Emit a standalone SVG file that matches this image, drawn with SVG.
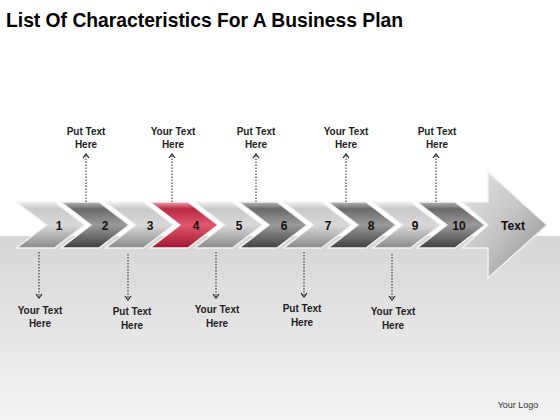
<svg xmlns="http://www.w3.org/2000/svg" width="560" height="420" viewBox="0 0 560 420">
<defs>
<linearGradient id="bg" x1="0" y1="0" x2="0" y2="1"><stop offset="0" stop-color="#d6d6d6"/><stop offset="1" stop-color="#f4f4f4"/></linearGradient>
<linearGradient id="gl" x1="0" y1="0" x2="0" y2="1"><stop offset="0" stop-color="#f0f0f0"/><stop offset="0.15" stop-color="#c9c9c9"/><stop offset="0.5" stop-color="#d8d8d8"/><stop offset="1" stop-color="#8a8a8a"/></linearGradient>
<linearGradient id="gd" x1="0" y1="0" x2="0" y2="1"><stop offset="0" stop-color="#b8b8b8"/><stop offset="0.15" stop-color="#6a6a6a"/><stop offset="0.5" stop-color="#9a9a9a"/><stop offset="1" stop-color="#404040"/></linearGradient>
<linearGradient id="gr" x1="0" y1="0" x2="0" y2="1"><stop offset="0" stop-color="#f0a0ac"/><stop offset="0.15" stop-color="#b82a42"/><stop offset="0.5" stop-color="#e0566c"/><stop offset="1" stop-color="#a01830"/></linearGradient>
<linearGradient id="ga" x1="0" y1="0" x2="1" y2="1"><stop offset="0" stop-color="#e6e6e6"/><stop offset="0.5" stop-color="#c4c4c4"/><stop offset="1" stop-color="#8c8c8c"/></linearGradient>
<marker id="ah" markerWidth="6" markerHeight="8" refX="5" refY="4" orient="auto" markerUnits="userSpaceOnUse" viewBox="0 0 6 8">
<polyline points="1,1 5,4 1,7" fill="none" stroke="#222" stroke-width="1.2"/></marker>
<path id="chev" d="M0,0 H38 L68,23 L38,46 H0 L30,23 Z"/>
</defs>
<style>
.t{font-family:"Liberation Sans",Arial,sans-serif;font-weight:bold;fill:#222;font-size:10px;text-anchor:middle}
.n{font-family:"Liberation Sans",Arial,sans-serif;font-weight:bold;fill:#111;font-size:12px;text-anchor:middle}
.c{stroke:#f2f2f2;stroke-width:1.5;stroke-linejoin:round}
.l{fill:url(#gl)}.d{fill:url(#gd)}.r{fill:url(#gr)}
.ln{stroke:#222;stroke-width:1;stroke-dasharray:1.5,1.5;fill:none}
</style>
<rect width="560" height="420" fill="#ffffff"/>
<rect y="236" width="560" height="184" fill="url(#bg)"/>
<text x="6" y="27" font-family="Liberation Sans,Arial,sans-serif" font-weight="bold" font-size="21" fill="#000" textLength="397" lengthAdjust="spacingAndGlyphs">List Of Characteristics For A Business Plan</text>
<g id="bigarrow">
<path d="M462,202 H488 V172 L547,225 L488,278 V248 H462 L488,225 Z" fill="url(#ga)" class="c"/>
<text x="513" y="230" class="n" font-size="13">Text</text>
</g>
<g id="c10"><use href="#chev" x="417" y="202" class="c d"/><text x="459" y="230" class="n">10</text></g>
<g id="c9"><use href="#chev" x="372.5" y="202" class="c l"/><text x="415" y="230" class="n">9</text></g>
<g id="c8"><use href="#chev" x="328" y="202" class="c d"/><text x="371" y="230" class="n">8</text></g>
<g id="c7"><use href="#chev" x="283.5" y="202" class="c l"/><text x="328" y="230" class="n">7</text></g>
<g id="c6"><use href="#chev" x="239" y="202" class="c d"/><text x="284" y="230" class="n">6</text></g>
<g id="c5"><use href="#chev" x="194.5" y="202" class="c l"/><text x="239" y="230" class="n">5</text></g>
<g id="c4"><use href="#chev" x="150" y="202" class="c r"/><text x="196" y="230" class="n">4</text></g>
<g id="c3"><use href="#chev" x="105.5" y="202" class="c l"/><text x="150" y="230" class="n">3</text></g>
<g id="c2"><use href="#chev" x="61" y="202" class="c d"/><text x="105" y="230" class="n">2</text></g>
<g id="c1"><use href="#chev" x="16.5" y="202" class="c l"/><text x="59" y="230" class="n">1</text></g>
<g id="connectors">
<line x1="86" y1="202" x2="86" y2="154" class="ln" marker-end="url(#ah)"/>
<line x1="172" y1="202" x2="172" y2="154" class="ln" marker-end="url(#ah)"/>
<line x1="256" y1="202" x2="256" y2="154" class="ln" marker-end="url(#ah)"/>
<line x1="346" y1="202" x2="346" y2="154" class="ln" marker-end="url(#ah)"/>
<line x1="436" y1="202" x2="436" y2="154" class="ln" marker-end="url(#ah)"/>
<line x1="39" y1="252" x2="39" y2="298" class="ln" marker-end="url(#ah)"/>
<line x1="128" y1="254" x2="128" y2="300" class="ln" marker-end="url(#ah)"/>
<line x1="216" y1="252" x2="216" y2="298" class="ln" marker-end="url(#ah)"/>
<line x1="304" y1="252" x2="304" y2="297" class="ln" marker-end="url(#ah)"/>
<line x1="392" y1="254" x2="392" y2="300" class="ln" marker-end="url(#ah)"/>
</g>
<g id="u1"><text class="t" x="86" y="135">Put Text</text><text class="t" x="86" y="148">Here</text></g>
<g id="u2"><text class="t" x="173" y="135">Your Text</text><text class="t" x="173" y="148">Here</text></g>
<g id="u3"><text class="t" x="256" y="135">Put Text</text><text class="t" x="256" y="148">Here</text></g>
<g id="u4"><text class="t" x="346" y="135">Your Text</text><text class="t" x="346" y="148">Here</text></g>
<g id="u5"><text class="t" x="437" y="135">Put Text</text><text class="t" x="437" y="148">Here</text></g>
<g id="d1"><text class="t" x="40" y="314">Your Text</text><text class="t" x="40" y="327">Here</text></g>
<g id="d2"><text class="t" x="132" y="315">Put Text</text><text class="t" x="132" y="329">Here</text></g>
<g id="d3"><text class="t" x="217" y="313">Your Text</text><text class="t" x="217" y="327">Here</text></g>
<g id="d4"><text class="t" x="302" y="312">Put Text</text><text class="t" x="302" y="326">Here</text></g>
<g id="d5"><text class="t" x="393" y="315">Your Text</text><text class="t" x="393" y="329">Here</text></g>
<text x="518" y="408" font-family="Liberation Sans,Arial,sans-serif" font-size="9" fill="#333" text-anchor="middle">Your Logo</text>
</svg>
